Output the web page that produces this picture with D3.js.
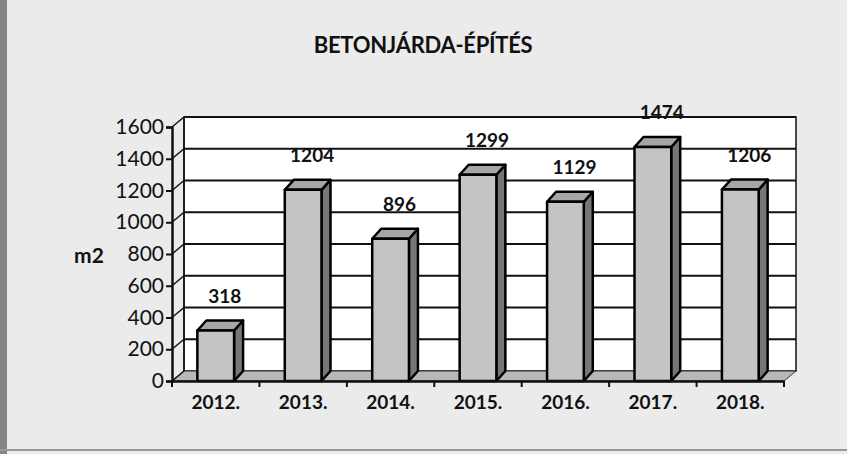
<!DOCTYPE html>
<html>
<head>
<meta charset="utf-8">
<script src="https://cdn.jsdelivr.net/npm/d3@7"></script>
<style>
  body { margin: 0; background: #ebebeb; }
  text { font-family: Lato, "Open Sans", sans-serif; fill: #111; }
</style>
</head>
<body>
<script>
const years = ['2012.', '2013.', '2014.', '2015.', '2016.', '2017.', '2018.']
const values = [318, 1204, 896, 1299, 1129, 1474, 1206]
const yTicks = [0, 200, 400, 600, 800, 1000, 1200, 1400, 1600]
const title = 'BETONJÁRDA-ÉPÍTÉS'
const yTitle = 'm2'

function main(){
    const width = 847
    const height = 454
    const dx = 12, dy = -10      // depth of the back wall
    const bdx = 9, bdy = -10     // depth of a bar

    let svg = d3.select('body').append('svg')
        .attr('width', width)
        .attr('height', height)

    svg.append('rect')
        .attr('width', width).attr('height', height)
        .attr('fill', '#ebebeb')

    // scan frame
    svg.append('rect').attr('x', 0).attr('y', 0).attr('width', 7).attr('height', height).attr('fill', '#858585')
    svg.append('rect').attr('x', 0).attr('y', 449).attr('width', width).attr('height', 2).attr('fill', '#999')

    let x = d3.scaleBand()
        .domain(years)
        .range([172, 784])
    let y = d3.scaleLinear()
        .domain([0, 1600])
        .range([381, 127])

    const x0 = 172, x1 = 784
    const y0 = y(0), yTop = y(1600)

    // back wall
    svg.append('rect')
        .attr('x', x0 + dx).attr('y', yTop + dy)
        .attr('width', x1 - x0).attr('height', y0 - yTop)
        .attr('fill', 'white')
        .attr('stroke', '#111').attr('stroke-width', 1.5)

    // grid lines on the wall
    svg.append('g').selectAll('line')
        .data(yTicks.filter(d => d > 0))
        .enter().append('line')
        .attr('x1', x0 + dx).attr('x2', x1 + dx)
        .attr('y1', d => y(d) + dy).attr('y2', d => y(d) + dy)
        .attr('stroke', '#111').attr('stroke-width', 2)

    // floor
    svg.append('polygon')
        .attr('points', [[x0, y0], [x1, y0], [x1 + dx, y0 + dy], [x0 + dx, y0 + dy]].join(' '))
        .attr('fill', '#b8b8b8')
        .attr('stroke', '#333').attr('stroke-width', 1)

    // side wall edge
    svg.append('line')
        .attr('x1', x0 + dx).attr('x2', x0 + dx)
        .attr('y1', yTop + dy).attr('y2', y0 + dy)
        .attr('stroke', '#111').attr('stroke-width', 1.5)

    // connectors from axis ticks to wall
    svg.append('g').selectAll('line')
        .data(yTicks)
        .enter().append('line')
        .attr('x1', x0).attr('x2', x0 + dx)
        .attr('y1', d => y(d)).attr('y2', d => y(d) + dy)
        .attr('stroke', '#111').attr('stroke-width', 1.5)

    // bars
    const barW = x.bandwidth() * 0.42
    let bars = svg.append('g').selectAll('g')
        .data(values)
        .enter().append('g')
        .attr('stroke', '#000')
        .attr('stroke-width', 2.5)
        .attr('stroke-linejoin', 'round')

    bars.append('polygon')
        .attr('fill', '#767676')
        .attr('points', (d, i) => {
            let bx = x(years[i]) + (x.bandwidth() - barW) / 2 + barW
            return [[bx, y0], [bx, y(d)], [bx + bdx, y(d) + bdy], [bx + bdx, y0 + bdy]].join(' ')
        })
    bars.append('polygon')
        .attr('fill', '#a6a6a6')
        .attr('points', (d, i) => {
            let bx = x(years[i]) + (x.bandwidth() - barW) / 2
            return [[bx, y(d)], [bx + barW, y(d)], [bx + barW + bdx, y(d) + bdy], [bx + bdx, y(d) + bdy]].join(' ')
        })
    bars.append('rect')
        .attr('fill', '#c4c4c4')
        .attr('x', (d, i) => x(years[i]) + (x.bandwidth() - barW) / 2)
        .attr('y', d => y(d))
        .attr('width', barW)
        .attr('height', d => y0 - y(d))

    // data labels
    svg.append('g').selectAll('text')
        .data(values)
        .enter().append('text')
        .attr('x', (d, i) => x(years[i]) + x.bandwidth() / 2 + 9)
        .attr('y', d => y(d) - 28)
        .attr('text-anchor', 'middle')
        .attr('font-size', 19)
        .attr('font-weight', 'bold')
        .text(d => d)

    // axes
    let yAxis = svg.append('g')
        .attr('transform', `translate(${x0},0)`)
        .call(d3.axisLeft(y).tickValues(yTicks).tickSize(6).tickPadding(2).tickFormat(d3.format('d')))
    yAxis.selectAll('text').attr('font-size', 21).attr('font-family', 'Lato').attr('fill', '#111')
    yAxis.selectAll('line').attr('stroke', '#111').attr('stroke-width', 2)
    yAxis.select('.domain').attr('stroke', '#111').attr('stroke-width', 2.5)

    let xAxis = svg.append('g')
        .attr('transform', `translate(0,${y0})`)
        .call(d3.axisBottom(x).tickSize(0).tickPadding(15))
    xAxis.selectAll('text').attr('font-size', 19).attr('font-weight', 'bold').attr('font-family', 'Lato').attr('fill', '#111')
    xAxis.select('.domain').attr('stroke', '#111').attr('stroke-width', 2.5)
    xAxis.append('g').selectAll('line')
        .data(years.concat(['end']))
        .enter().append('line')
        .attr('x1', (d, i) => x0 + i * x.step()).attr('x2', (d, i) => x0 + i * x.step())
        .attr('y1', 0).attr('y2', 6)
        .attr('stroke', '#111').attr('stroke-width', 2)

    // titles
    svg.append('text')
        .attr('x', 423).attr('y', 53)
        .attr('text-anchor', 'middle')
        .attr('font-size', 22)
        .attr('letter-spacing', -0.3)
        .attr('font-weight', 'bold')
        .text(title)
    svg.append('text')
        .attr('x', 89).attr('y', 263)
        .attr('text-anchor', 'middle')
        .attr('font-size', 21)
        .attr('font-weight', 'bold')
        .text(yTitle)
}

main()
</script>
</body>
</html>
